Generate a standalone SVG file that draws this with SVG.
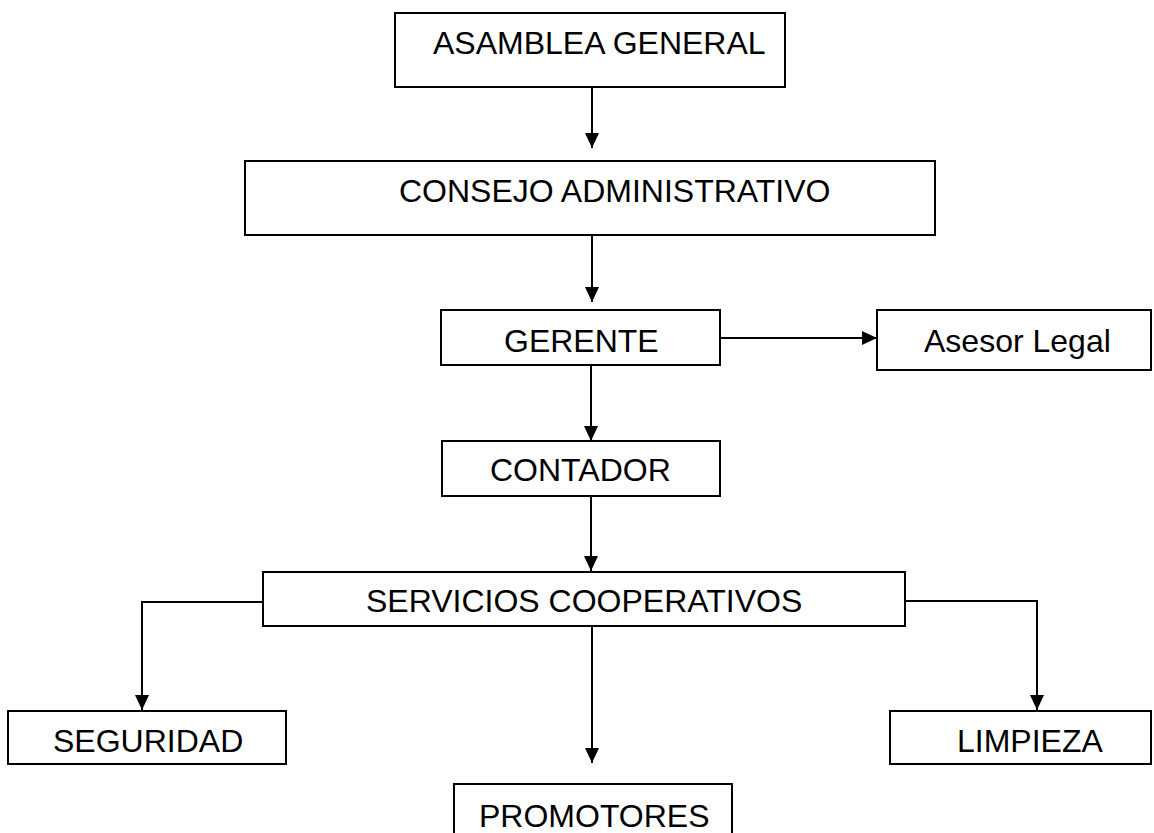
<svg xmlns="http://www.w3.org/2000/svg" width="1154" height="833" viewBox="0 0 1154 833">
<style>
.box{fill:#fff;stroke:#000;stroke-width:2}
.t{font-family:"Liberation Sans",Arial,sans-serif;font-size:32px;fill:#000}
.c{fill:none;stroke:#000;stroke-width:2}
</style>
<defs>
<marker id="ah" markerUnits="userSpaceOnUse" markerWidth="16" markerHeight="14" refX="15" refY="7" orient="auto">
<path d="M0,0 L15,7 L0,14 z" fill="#000"/>
</marker>
</defs>
<rect width="1154" height="833" fill="#fff"/>
<g id="connectors">
<path class="c" d="M592,87 V148" marker-end="url(#ah)"/>
<path class="c" d="M592,235 V302" marker-end="url(#ah)"/>
<path class="c" d="M720,338 H877" marker-end="url(#ah)"/>
<path class="c" d="M591,365 V441" marker-end="url(#ah)"/>
<path class="c" d="M591,496 V571" marker-end="url(#ah)"/>
<path class="c" d="M263,602 H142 V710" marker-end="url(#ah)"/>
<path class="c" d="M905,601 H1037 V710" marker-end="url(#ah)"/>
<path class="c" d="M592,626 V763" marker-end="url(#ah)"/>
</g>
<g id="asamblea"><rect class="box" x="395" y="13" width="390" height="74"/><text class="t" x="433" y="54">ASAMBLEA GENERAL</text></g>
<g id="consejo"><rect class="box" x="245" y="161" width="690" height="74"/><text class="t" x="399" y="202">CONSEJO ADMINISTRATIVO</text></g>
<g id="gerente"><rect class="box" x="441" y="310" width="279" height="55"/><text class="t" x="504" y="352">GERENTE</text></g>
<g id="asesor"><rect class="box" x="877" y="310" width="274" height="60"/><text class="t" x="924" y="352">Asesor Legal</text></g>
<g id="contador"><rect class="box" x="442" y="441" width="278" height="55"/><text class="t" x="490" y="481">CONTADOR</text></g>
<g id="servicios"><rect class="box" x="263" y="572" width="642" height="54"/><text class="t" x="366" y="612">SERVICIOS COOPERATIVOS</text></g>
<g id="seguridad"><rect class="box" x="8" y="711" width="278" height="53"/><text class="t" x="53" y="752">SEGURIDAD</text></g>
<g id="limpieza"><rect class="box" x="890" y="711" width="261" height="53"/><text class="t" x="957" y="752">LIMPIEZA</text></g>
<g id="promotores"><rect class="box" x="454" y="784" width="278" height="60"/><text class="t" x="479" y="827">PROMOTORES</text></g>
</svg>
